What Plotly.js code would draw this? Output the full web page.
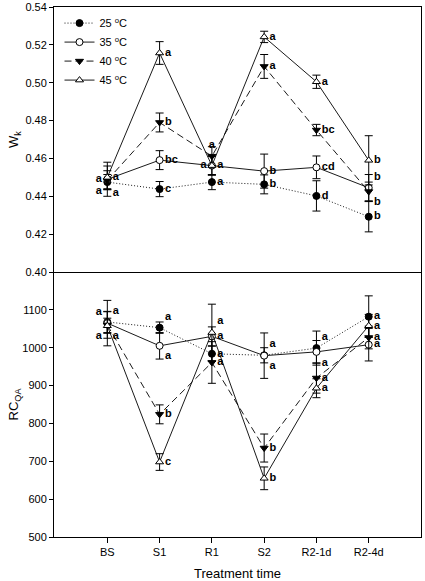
<!DOCTYPE html>
<html><head><meta charset="utf-8">
<script src="https://cdn.plot.ly/plotly-3.0.1.min.js"></script>
<style>html,body{margin:0;padding:0;background:#fff}#c{width:425px;height:581px}</style>
</head><body><div id="c"></div>
<script>
const categories = ['BS','S1','R1','S2','R2-1d','R2-4d'];
const seriesNames = ['25 <sup>o</sup>C','35 <sup>o</sup>C','40 <sup>o</sup>C','45 <sup>o</sup>C'];

// W_k panel
const wk25 = [0.4475, 0.4438, 0.4475, 0.4463, 0.4402, 0.4292];
const wk25err = [0.004, 0.004, 0.004, 0.005, 0.008, 0.008];
const wk35 = [0.4490, 0.4591, 0.4562, 0.4533, 0.4553, 0.4445];
const wk35err = [0.009, 0.005, 0.005, 0.009, 0.006, 0.007];
const wk40 = [0.4485, 0.4790, 0.4612, 0.5086, 0.4750, 0.4425];
const wk40err = [0.005, 0.005, 0.005, 0.0063, 0.003, 0.005];
const wk45 = [0.4500, 0.5157, 0.4562, 0.5242, 0.5005, 0.4590];
const wk45err = [0.006, 0.006, 0.005, 0.003, 0.0035, 0.013];
const wk25lab = ['a','c','a','b','d','b'];
const wk35lab = ['a','bc','a','b','cd','b'];
const wk40lab = ['a','b','a','a','bc','b'];
const wk45lab = ['a','a','a','a','a','b'];

// RC_QA panel
const rc25 = [1068, 1053, 984, 980, 999, 1082];
const rc25err = [28, 15, 20, 20, 45, 55];
const rc35 = [1065, 1005, 1030, 979, 989, 1008];
const rc35err = [60, 35, 25, 60, 30, 43];
const rc40 = [1060, 824, 961, 735, 920, 1027];
const rc40err = [35, 25, 55, 37, 40, 30];
const rc45 = [1058, 698, 1040, 655, 893, 1058];
const rc45err = [20, 22, 75, 30, 25, 30];
const rc25lab = ['a','a','a','a','a','a'];
const rc35lab = ['a','a','a','a','a','a'];
const rc40lab = ['a','b','a','b','a','a'];
const rc45lab = ['a','c','a','b','a','a'];

const wkTicks = [0.40,0.42,0.44,0.46,0.48,0.50,0.52,0.54];
const rcTicks = [500,600,700,800,900,1000,1100];

// label placement (style only)
const R='middle right', L='middle left';
const wkPos = [
  ['bottom right',R,R,R,R,R],
  [L,R,R,R,R,'top right'],
  ['bottom left',R,'top center',R,R,'bottom right'],
  [R,R,L,R,R,R]
];
const rcPos = [
  ['top right','top right',R,'top right','top right',R],
  ['top left','bottom right',R,'bottom right','bottom right',R],
  ['bottom left',R,R,R,R,R],
  ['bottom right',R,'top right',R,R,R]
];

const xs = categories.map((c,i)=>i);
const styles = [
  {dash:'1px,2px', symbol:'circle', fill:'black'},
  {dash:'solid', symbol:'circle', fill:'white'},
  {dash:'7px,4px', symbol:'triangle-down', fill:'black'},
  {dash:'solid', symbol:'triangle-up', fill:'white'}
];

function mk(i, y, err, lab, pos, xa, ya, showleg){
  const s = styles[i];
  return {
    x: xs, y: y, xaxis: xa, yaxis: ya,
    type:'scatter', mode:'lines+markers+text',
    name: seriesNames[i], showlegend: showleg,
    text: lab.map(t=>'<b>'+t+'</b>'), textposition: pos,
    textfont:{family:'Liberation Sans, Arial, sans-serif', size:11, color:'black'},
    line:{color:'black', width:0.9, dash:s.dash},
    marker:{symbol:s.symbol, size:7, color:s.fill, line:{color:'black', width:1}},
    error_y:{type:'data', array:err, visible:true, color:'black', thickness:1, width:4},
    cliponaxis:false
  };
}

const data = [
  mk(0, wk25, wk25err, wk25lab, wkPos[0], 'x2','y2', true),
  mk(1, wk35, wk35err, wk35lab, wkPos[1], 'x2','y2', true),
  mk(2, wk40, wk40err, wk40lab, wkPos[2], 'x2','y2', true),
  mk(3, wk45, wk45err, wk45lab, wkPos[3], 'x2','y2', true),
  mk(0, rc25, rc25err, rc25lab, rcPos[0], 'x','y', false),
  mk(1, rc35, rc35err, rc35lab, rcPos[1], 'x','y', false),
  mk(2, rc40, rc40err, rc40lab, rcPos[2], 'x','y', false),
  mk(3, rc45, rc45err, rc45lab, rcPos[3], 'x','y', false)
];

const font = {family:'Liberation Sans, Arial, sans-serif', size:11, color:'black'};
const layout = {
  width:425, height:581,
  margin:{l:54, r:4, t:7, b:44},
  paper_bgcolor:'white', plot_bgcolor:'white',
  font: font,
  showlegend:true,
  legend:{x:0.015, y:0.997, xanchor:'left', yanchor:'top', bgcolor:'rgba(0,0,0,0)',
          font:{family:'Liberation Sans, Arial, sans-serif', size:11, color:'black'}, traceorder:'normal'},
  xaxis:{domain:[0,1], anchor:'y', range:[-1.02,6.0], tickvals:xs, ticktext:categories,
         showgrid:false, zeroline:false, showline:true, mirror:false, linecolor:'black', linewidth:1,
         ticks:'outside', ticklen:5, tickcolor:'black',
         title:{text:'Treatment time', font:{family:'Liberation Sans, Arial, sans-serif', size:13, color:'black'}, standoff:17}},
  xaxis2:{domain:[0,1], anchor:'y2', matches:'x', range:[-1.02,6.0], showticklabels:false, ticks:'',
          showgrid:false, zeroline:false, showline:true, mirror:true, linecolor:'black', linewidth:1},
  yaxis:{domain:[0,0.5], anchor:'x', range:[500,1200], tickvals:rcTicks,
         showgrid:false, zeroline:false, showline:true, mirror:true, linecolor:'black', linewidth:1,
         ticks:'outside', ticklen:4, tickcolor:'black',
         title:{text:'RC<sub>QA</sub>', font:{family:'Liberation Sans, Arial, sans-serif', size:13, color:'black'}}},
  yaxis2:{domain:[0.5,1], anchor:'x2', range:[0.40,0.54], tickvals:wkTicks, tickformat:'.2f',
          showgrid:false, zeroline:false, showline:true, mirror:true, linecolor:'black', linewidth:1,
          ticks:'outside', ticklen:4, tickcolor:'black',
          title:{text:'W<sub>k</sub>', font:{family:'Liberation Sans, Arial, sans-serif', size:13, color:'black'}}}
};
Plotly.newPlot('c', data, layout, {displayModeBar:false, staticPlot:true});
</script>
</body></html>
